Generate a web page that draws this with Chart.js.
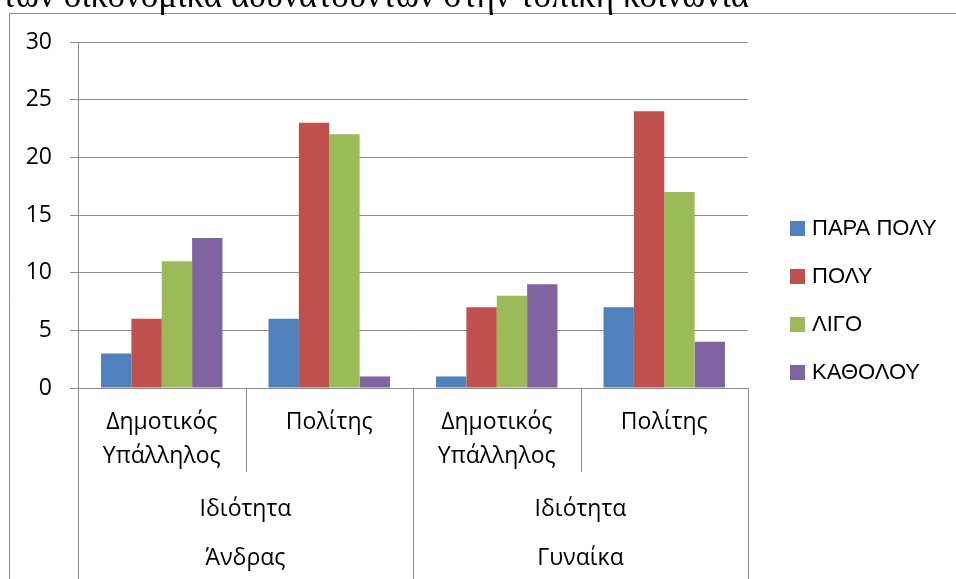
<!DOCTYPE html>
<html>
<head>
<meta charset="utf-8">
<script src="https://cdn.jsdelivr.net/npm/chart.js@4"></script>
<style>
  html, body { margin: 0; padding: 0; background: #fff; }
  canvas { display: block; }
</style>
</head>
<body>
<canvas id="chart" width="956" height="579"></canvas>
<script>
const titleText = 'των οικονομικά αδυνατούντων στην τοπική κοινωνία';
const categories = [['Δημοτικός', 'Υπάλληλος'], ['Πολίτης'], ['Δημοτικός', 'Υπάλληλος'], ['Πολίτης']];
const roleLabels = ['Ιδιότητα', 'Ιδιότητα'];
const genderLabels = ['Άνδρας', 'Γυναίκα'];
const seriesNames = ['ΠΑΡΑ ΠΟΛΥ', 'ΠΟΛΥ', 'ΛΙΓΟ', 'ΚΑΘΟΛΟΥ'];
const paraPoly = [3, 6, 1, 7];
const poly = [6, 23, 7, 24];
const ligo = [11, 22, 8, 17];
const katholou = [13, 1, 9, 4];
const seriesColors = ['#4F81BD', '#C0504D', '#9BBB59', '#8064A2'];

const gridColor = '#8c8c8c';
const labelFont = '"Open Sans", sans-serif';

// frame, cut-off title, group dividers, lower category rows and legend
const extrasPlugin = {
    id: 'extras',
    beforeDraw(chart) {
        const c = chart.ctx;
        c.save();
        c.strokeStyle = gridColor;
        c.lineWidth = 1;
        c.beginPath();
        c.moveTo(9.5, 600);
        c.lineTo(9.5, 13.5);
        c.lineTo(960, 13.5);
        c.stroke();
        c.fillStyle = '#000';
        c.font = '35px "Liberation Serif", serif';
        c.textBaseline = 'alphabetic';
        c.fillText(titleText, 2, 7);
        c.restore();
    },
    afterDraw(chart) {
        const c = chart.ctx;
        const x = chart.scales.x;
        const area = chart.chartArea;
        const n = categories.length;
        c.save();
        c.strokeStyle = gridColor;
        c.lineWidth = 1;
        // edges between categories
        const edges = [area.left];
        for (let i = 0; i < n - 1; i++) {
            edges.push((x.getPixelForValue(i) + x.getPixelForValue(i + 1)) / 2);
        }
        edges.push(area.right);
        edges.forEach((ex, i) => {
            const px = Math.round(ex) + 0.5;
            const full = i % 2 === 0;
            c.beginPath();
            c.moveTo(px, area.bottom);
            c.lineTo(px, full ? chart.height : area.bottom + 84);
            c.stroke();
        });
        // upper level labels
        c.fillStyle = '#000';
        c.font = '23px ' + labelFont;
        c.textAlign = 'center';
        c.textBaseline = 'middle';
        for (let g = 0; g < genderLabels.length; g++) {
            const cx = (x.getPixelForValue(g * 2) + x.getPixelForValue(g * 2 + 1)) / 2;
            c.fillText(roleLabels[g], cx, area.bottom + 121);
            c.fillText(genderLabels[g], cx, area.bottom + 170);
        }
        // legend
        c.textAlign = 'left';
        c.font = '22px "Liberation Sans", Arial, sans-serif';
        chart.data.datasets.forEach((ds, i) => {
            const cy = 228 + i * 48;
            c.fillStyle = ds.backgroundColor;
            c.fillRect(790, cy - 7, 15, 15);
            c.fillStyle = '#000';
            c.fillText(ds.label, 812, cy + 1);
        });
        c.restore();
    }
};

const seriesData = [paraPoly, poly, ligo, katholou];

new Chart(document.getElementById('chart'), {
    type: 'bar',
    data: {
        labels: categories,
        datasets: seriesData.map((d, i) => ({
            label: seriesNames[i],
            data: d,
            backgroundColor: seriesColors[i],
            borderWidth: 0
        }))
    },
    options: {
        responsive: false,
        animation: false,
        devicePixelRatio: 1,
        categoryPercentage: 0.725,
        barPercentage: 1,
        layout: { padding: { left: 0, top: 42, right: 208, bottom: 0 } },
        plugins: {
            legend: { display: false },
            tooltip: { enabled: false }
        },
        scales: {
            x: {
                afterFit: (scale) => { scale.height = 191; },
                grid: { display: false },
                border: { display: true, color: gridColor, width: 1 },
                ticks: {
                    autoSkip: false,
                    maxRotation: 0,
                    padding: 10,
                    color: '#000',
                    font: { family: labelFont, size: 23, lineHeight: 1.45 }
                }
            },
            y: {
                min: 0,
                max: 30,
                afterFit: (scale) => { scale.width = 78; },
                grid: { color: gridColor, lineWidth: 1, tickLength: 8, drawTicks: true },
                border: { display: true, color: gridColor, width: 1 },
                ticks: {
                    stepSize: 5,
                    padding: 18,
                    color: '#000',
                    font: { family: labelFont, size: 23 }
                }
            }
        }
    },
    plugins: [extrasPlugin]
});
</script>
</body>
</html>
